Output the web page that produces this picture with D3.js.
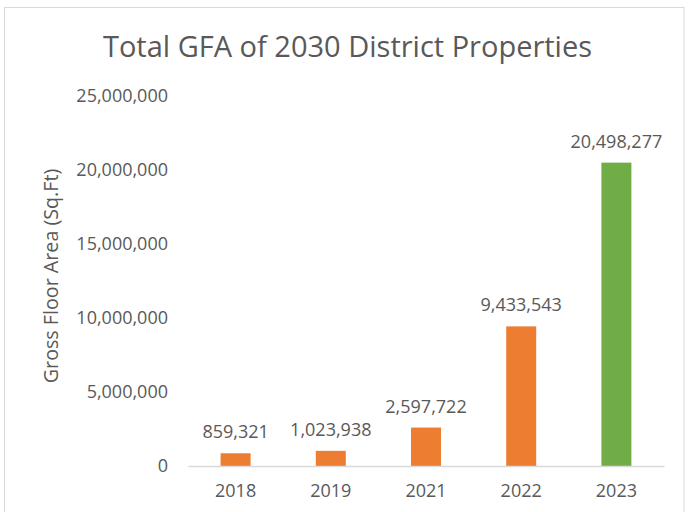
<!DOCTYPE html>
<html><head><meta charset="utf-8">
<script src="https://cdn.jsdelivr.net/npm/d3@7"></script>
<style>body{margin:0;background:#fff}svg{display:block}</style>
</head><body><svg id="c" width="688" height="512"></svg>
<script>
const categories = ["2018","2019","2021","2022","2023"];
const values = [859321, 1023938, 2597722, 9433543, 20498277];
const barColors = ["#ED7D31","#ED7D31","#ED7D31","#ED7D31","#70AD47"];
const yTicks = [0, 5000000, 10000000, 15000000, 20000000, 25000000];
const title = "Total GFA of 2030 District Properties";
const yTitle = "Gross Floor Area (Sq.Ft)";

const svg = d3.select("#c");
const font = "'Open Sans', sans-serif";
const textColor = "#595959";
svg.append("rect").attr("x",4.5).attr("y",7.5).attr("width",679.5).attr("height",520)
  .attr("fill","#fff").attr("stroke","#d9d9d9").attr("stroke-width",1);

const x = d3.scaleBand().domain(categories).range([188,664]).paddingInner(0.685).paddingOuter(0.3425);
const y = d3.scaleLinear().domain([0,25000000]).range([466,96]);
const fmt = d3.format(",");

svg.append("text").attr("x",347.5).attr("y",57).attr("text-anchor","middle")
  .attr("font-family",font).attr("font-size",29).attr("fill",textColor).text(title);

const yAxis = svg.append("g").attr("transform","translate(188,0)")
  .call(d3.axisLeft(y).tickValues(yTicks).tickFormat(fmt).tickSize(0).tickPadding(20));
yAxis.select(".domain").remove();
yAxis.selectAll("text").attr("font-family",font).attr("font-size",18).attr("fill",textColor);

const xAxis = svg.append("g").attr("transform","translate(0,466)")
  .call(d3.axisBottom(x).tickSize(0).tickPadding(18));
xAxis.select(".domain").attr("stroke","#d9d9d9").attr("stroke-width",1.3);
xAxis.selectAll("text").attr("font-family",font).attr("font-size",18).attr("fill",textColor);

svg.append("g").selectAll("rect").data(values).join("rect")
  .attr("x",(d,i)=>x(categories[i])).attr("width",x.bandwidth())
  .attr("y",d=>y(d)).attr("height",d=>y(0)-y(d)).attr("fill",(d,i)=>barColors[i]);
xAxis.raise();

svg.append("g").selectAll("text").data(values).join("text")
  .attr("x",(d,i)=>x(categories[i])+x.bandwidth()/2).attr("y",d=>y(d)-15)
  .attr("text-anchor","middle").attr("font-family",font).attr("font-size",18).attr("fill",textColor)
  .text(d=>fmt(d));

svg.append("text").attr("transform","translate(58,276) rotate(-90)").attr("text-anchor","middle")
  .attr("font-family",font).attr("font-size",19.7).attr("fill",textColor).text(yTitle);
</script></body></html>
